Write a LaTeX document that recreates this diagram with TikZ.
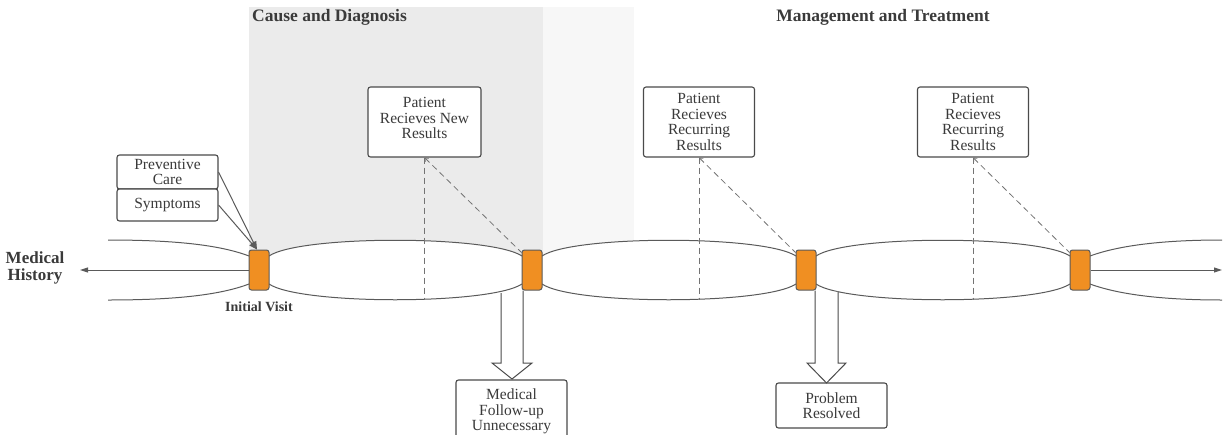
\documentclass[tikz,border=0pt]{standalone}
\usepackage{fontspec}
\setmainfont{Liberation Serif}
\usetikzlibrary{arrows.meta}
\definecolor{lc}{HTML}{5A5A5A}
\definecolor{bc}{HTML}{4A4A4A}
\definecolor{tc}{HTML}{3A3A3A}
\definecolor{orangeV}{HTML}{F08F22}
\definecolor{grayA}{HTML}{EBEBEB}
\definecolor{grayB}{HTML}{F7F7F7}
\tikzset{
  ln/.style={draw=lc, line width=1pt},
  box/.style={draw=bc, line width=1.1pt, rounded corners=2.5pt, fill=white, align=center,
    font=\fontsize{15.5}{15.5}\selectfont, text=tc, inner sep=0pt},
  visit/.style={draw=lc, fill=orangeV, rounded corners=2.5pt, minimum width=20pt,
    minimum height=40pt, inner sep=0pt, line width=1pt},
  dashln/.style={draw=lc!85, line width=0.8pt, dash pattern=on 6pt off 4pt},
  blockarrow/.style={draw=bc, fill=white, line width=1pt, line join=miter},
  hdr/.style={font=\bfseries\fontsize{17.5}{19}\selectfont, text=tc, inner sep=0pt},
}
\begin{document}
\begin{tikzpicture}[x=1pt,y=-1pt]
\useasboundingbox (0,0) rectangle (1225,434);
% background bands
\fill[grayA] (249,7) rectangle (543,266);
\fill[grayB] (543,7) rectangle (634,266);
\node[hdr, anchor=west] (h1) at (252,17) {Cause and Diagnosis};
\node[hdr] (h2) at (883,17) {Management and Treatment};

% visit nodes (coordinates for curves)
\coordinate (c1) at (259,270);
\coordinate (c2) at (532,270);
\coordinate (c3) at (806,270);
\coordinate (c4) at (1080,270);

% lens fills
\fill[white] (269,256) .. controls (300,235) and (490,235) .. (522,256) -- (522,284) .. controls (490,305) and (300,305) .. (269,284) -- cycle;
\fill[white] (542,256) .. controls (573,235) and (764,235) .. (796,256) -- (796,284) .. controls (764,305) and (573,305) .. (542,284) -- cycle;
\fill[white] (816,256) .. controls (847,235) and (1038,235) .. (1070,256) -- (1070,284) .. controls (1038,305) and (847,305) .. (816,284) -- cycle;
% lens strokes
\draw[ln] (108,240) .. controls (175,240) and (220,245) .. (249,256);
\draw[ln] (108,300) .. controls (175,300) and (220,295) .. (249,284);
\draw[ln] (269,256) .. controls (300,235) and (490,235) .. (522,256);
\draw[ln] (269,284) .. controls (300,305) and (490,305) .. (522,284);
\draw[ln] (542,256) .. controls (573,235) and (764,235) .. (796,256);
\draw[ln] (542,284) .. controls (573,305) and (764,305) .. (796,284);
\draw[ln] (816,256) .. controls (847,235) and (1038,235) .. (1070,256);
\draw[ln] (816,284) .. controls (847,305) and (1038,305) .. (1070,284);
\draw[ln] (1090,256) .. controls (1120,245) and (1165,240) .. (1222,240);
\draw[ln] (1090,284) .. controls (1120,295) and (1165,300) .. (1222,300);

% text boxes
\node[box, minimum width=101pt, minimum height=34pt] (prev) at (167.5,172) {Preventive\\Care};
\node[box, minimum width=101pt, minimum height=32pt] (symp) at (167.5,205) {Symptoms};
\node[box, minimum width=113pt, minimum height=70pt] (b1) at (424.5,122) {};
\node[align=center, font=\fontsize{15.5}{15.5}\selectfont, text=tc, inner sep=0pt] (b1t) at (424.5,118) {Patient\\Recieves New\\Results};
\node[box, minimum width=111pt, minimum height=70pt] (b2) at (699,122) {Patient\\Recieves\\Recurring\\Results};
\node[box, minimum width=111pt, minimum height=70pt] (b3) at (973,122) {Patient\\Recieves\\Recurring\\Results};
\node[box, minimum width=111pt, minimum height=60pt, text depth=0pt] (fu) at (511.5,410) {Medical\\Follow-up\\Unnecessary};
\node[box, minimum width=111pt, minimum height=45pt] (pr) at (831.5,405.5) {Problem\\Resolved};

% visit nodes
\node[visit] (n1) at (c1) {};
\node[visit] (n2) at (c2) {};
\node[visit] (n3) at (c3) {};
\node[visit] (n4) at (c4) {};

% dashed links
\draw[dashln] (b1.south) -- (b1.south |- 0,300);
\draw[dashln, {Straight Barb[length=3pt,width=5pt]}-] (b1.south) -- ([yshift=-3pt]n2.north west);
\draw[dashln] (b2.south) -- (b2.south |- 0,300);
\draw[dashln, {Straight Barb[length=3pt,width=5pt]}-] (b2.south) -- ([yshift=-3pt]n3.north west);
\draw[dashln] (b3.south) -- (b3.south |- 0,300);
\draw[dashln, {Straight Barb[length=3pt,width=5pt]}-] (b3.south) -- ([yshift=-3pt]n4.north west);

% inputs to initial visit
\draw[ln, -{Triangle[length=8pt,width=6pt]}] (prev.east) -- ([xshift=-2pt]n1.north);
\draw[ln, -{Triangle[length=8pt,width=6pt]}] (symp.east) -- ([xshift=-2pt]n1.north);

% timeline arrows
\coordinate (mh) at (80,270);
\coordinate (fut) at (1222,270);
\draw[ln, -{Triangle[length=8pt,width=5pt]}] (n1.west) -- (mh);
\draw[ln, -{Triangle[length=8pt,width=5pt]}] (n4.east) -- (fut);

% block arrows
\draw[blockarrow] (501,293) -- (501,363) -- (492,363) -- (512,379) -- (532,363) -- (523,363) -- (523,290.5);
\draw[blockarrow] (815,290.5) -- (815,363) -- (807,363) -- (826.5,383) -- (846,363) -- (838,363) -- (838,292);

% labels
\node[font=\bfseries\fontsize{17}{17}\selectfont, text=tc, align=center, inner sep=0pt] (mhl) at (35,268) {Medical\\History};
\node[font=\bfseries\fontsize{14}{15}\selectfont, text=tc, inner sep=0pt] (iv) at (259,307) {Initial Visit};
\end{tikzpicture}
\end{document}
